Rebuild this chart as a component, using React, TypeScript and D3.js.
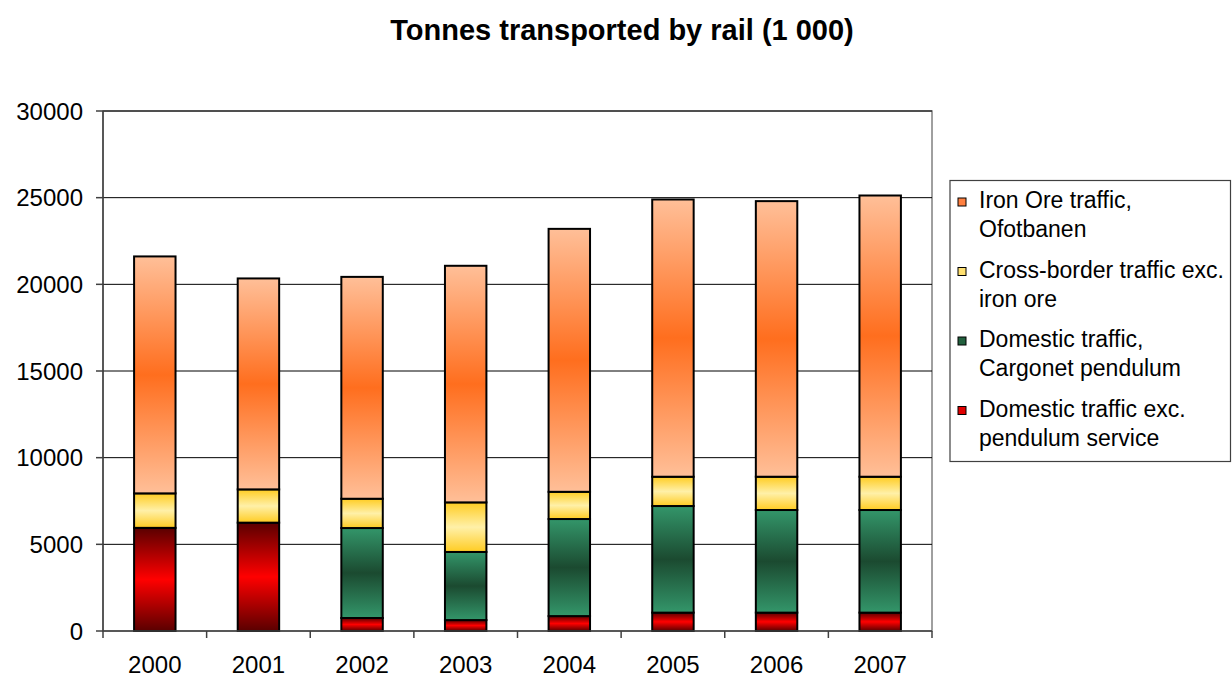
import React from "react";
import * as d3 from "d3";

const years = ["2000", "2001", "2002", "2003", "2004", "2005", "2006", "2007"];
// Tonnes (1 000) per segment, stacked bottom to top
const domesticExcPendulum = [5950, 6250, 750, 630, 860, 1060, 1060, 1060];
const domesticCargonet = [0, 0, 5190, 3930, 5600, 6150, 5920, 5920];
const crossBorder = [1990, 1920, 1690, 2860, 1570, 1690, 1920, 1920];
const ironOre = [13670, 12170, 12800, 13650, 15170, 15995, 15900, 16225];
const yTicks = [0, 5000, 10000, 15000, 20000, 25000, 30000];

const seriesNames = [
  "Domestic traffic exc. pendulum service",
  "Domestic traffic, Cargonet pendulum",
  "Cross-border traffic exc. iron ore",
  "Iron Ore traffic, Ofotbanen",
];
const legendLines = [
  ["Iron Ore traffic,", "Ofotbanen"],
  ["Cross-border traffic exc.", "iron ore"],
  ["Domestic traffic,", "Cargonet pendulum"],
  ["Domestic traffic exc.", "pendulum service"],
];
// edge colour, centre colour for each series' vertical gradient
const gradients = [
  { id: "gRed", edge: "#5a0000", mid: "#ff0000", swatch: "#e00000" },
  { id: "gGreen", edge: "#33966a", mid: "#1b4a30", swatch: "#22603e" },
  { id: "gYellow", edge: "#ffcc22", mid: "#fff0a8", swatch: "#ffe070" },
  { id: "gOrange", edge: "#ffbf98", mid: "#ff6e1e", swatch: "#ff8040" },
];

const W = 1232;
const H = 677;
const plot = { left: 103, right: 932, top: 111, bottom: 631 };
const font = "'Liberation Sans', Arial, sans-serif";

export default function App() {
  const x = d3
    .scaleBand<string>()
    .domain(years)
    .range([plot.left, plot.right])
    .paddingInner(0.6)
    .paddingOuter(0.3);
  const y = d3.scaleLinear().domain([0, 30000]).range([plot.bottom, plot.top]);

  const table = years.map((yr, i) => ({
    year: yr,
    [seriesNames[0]]: domesticExcPendulum[i],
    [seriesNames[1]]: domesticCargonet[i],
    [seriesNames[2]]: crossBorder[i],
    [seriesNames[3]]: ironOre[i],
  }));
  const stacked = d3.stack<any>().keys(seriesNames)(table);
  const step = (plot.right - plot.left) / years.length;
  const bandLines = d3.range(years.length + 1).map((i) => plot.left + i * step);

  return (
    <svg
      width={W}
      height={H}
      style={{ position: "absolute", left: 0, top: 0, background: "#fff" }}
      fontFamily={font}
    >
      <defs>
        {gradients.map((g) => (
          <linearGradient key={g.id} id={g.id} x1="0" y1="0" x2="0" y2="1">
            <stop offset="0%" stopColor={g.edge} />
            <stop offset="50%" stopColor={g.mid} />
            <stop offset="100%" stopColor={g.edge} />
          </linearGradient>
        ))}
      </defs>

      <text x={622} y={40} textAnchor="middle" fontSize={29} fontWeight="bold" fill="#000">
        Tonnes transported by rail (1 000)
      </text>

      {/* plot frame */}
      <rect
        x={plot.left}
        y={plot.top}
        width={plot.right - plot.left}
        height={plot.bottom - plot.top}
        fill="none"
        stroke="#808080"
        strokeWidth={1.5}
      />
      {/* gridlines */}
      {yTicks.slice(1).map((t) => (
        <line key={t} x1={plot.left} x2={plot.right} y1={y(t)} y2={y(t)} stroke="#000" strokeWidth={1} />
      ))}

      {/* bars */}
      {stacked.map((layer, si) =>
        layer.map((d, i) => {
          const h = y(d[0]) - y(d[1]);
          if (h <= 0) return null;
          return (
            <rect
              key={`${si}-${i}`}
              x={x(years[i])!}
              y={y(d[1])}
              width={x.bandwidth()}
              height={h}
              fill={`url(#${gradients[si].id})`}
              stroke="#000"
              strokeWidth={2}
            />
          );
        })
      )}

      {/* axes */}
      <line x1={plot.left} x2={plot.left} y1={plot.top} y2={plot.bottom} stroke="#404040" strokeWidth={1.5} />
      <line x1={plot.left} x2={plot.right} y1={plot.bottom} y2={plot.bottom} stroke="#404040" strokeWidth={1.5} />
      {yTicks.map((t) => (
        <g key={t}>
          <line x1={plot.left - 7} x2={plot.left} y1={y(t)} y2={y(t)} stroke="#404040" strokeWidth={1.5} />
          <text x={83} y={y(t) + 8.5} textAnchor="end" fontSize={24} fill="#000">
            {t}
          </text>
        </g>
      ))}
      {bandLines.map((bx, i) => (
        <line key={i} x1={bx} x2={bx} y1={plot.bottom} y2={plot.bottom + 7} stroke="#404040" strokeWidth={1.5} />
      ))}
      {years.map((yr) => (
        <text key={yr} x={x(yr)! + x.bandwidth() / 2} y={673} textAnchor="middle" fontSize={24} fill="#000">
          {yr}
        </text>
      ))}

      {/* legend */}
      <rect x={950} y={180.5} width={280.5} height={281} fill="#fff" stroke="#404040" strokeWidth={1.2} />
      {legendLines.map((lines, li) => {
        const g = gradients[3 - li];
        const base = 208 + li * 69.5;
        return (
          <g key={li}>
            <rect x={958} y={base - 10} width={8} height={8} fill={g.swatch} stroke="#000" strokeWidth={1} />
            {lines.map((ln, k) => (
              <text key={k} x={979} y={base + k * 29} fontSize={23} fill="#000">
                {ln}
              </text>
            ))}
          </g>
        );
      })}
    </svg>
  );
}
